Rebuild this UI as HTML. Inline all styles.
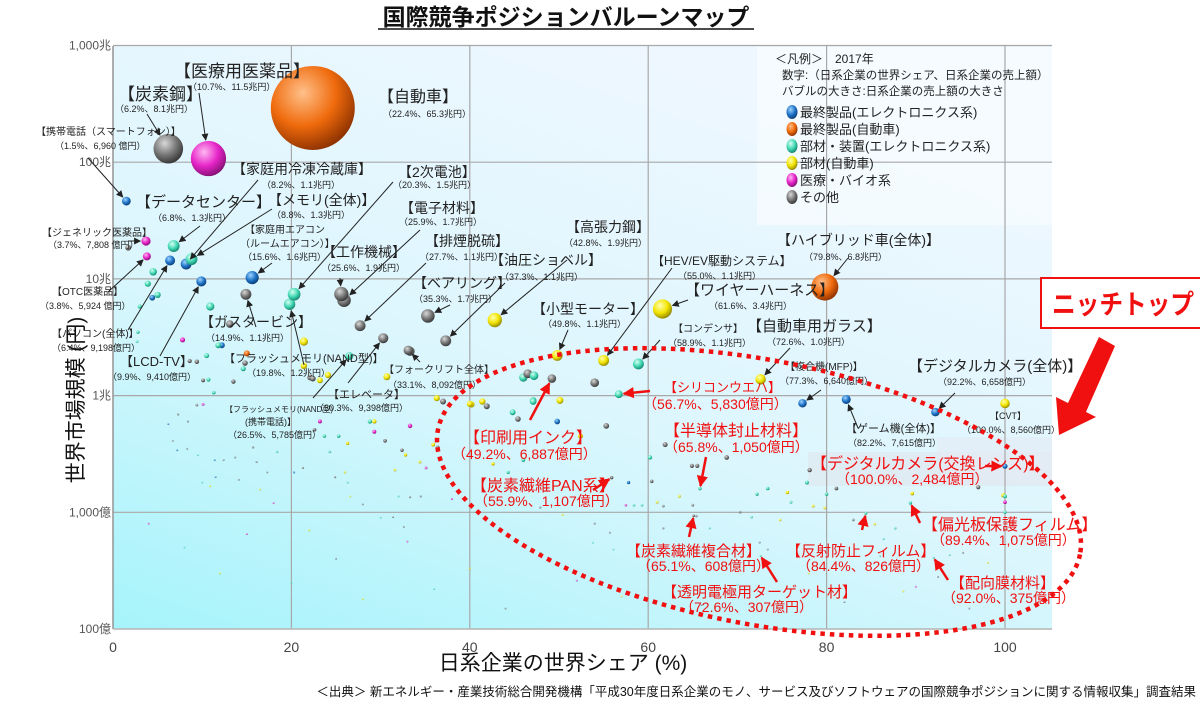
<!DOCTYPE html>
<html><head><meta charset="utf-8">
<style>
body{margin:0;background:#fff;}
svg{display:block;font-family:"Liberation Sans","Noto Sans CJK JP",sans-serif;}
</style></head>
<body>
<svg id="chart" width="1200" height="704" viewBox="0 0 1200 704" xmlns="http://www.w3.org/2000/svg">
<defs>
<linearGradient id="bg" x1="0" y1="1" x2="0.55" y2="0">
<stop offset="0" stop-color="#a6f4fb"/><stop offset="0.5" stop-color="#dcf6fd"/><stop offset="1" stop-color="#eef7ff"/>
</linearGradient>
<marker id="ah" viewBox="0 0 10 10" refX="9" refY="5" markerWidth="7" markerHeight="7" orient="auto-start-reverse"><path d="M0,0L10,5L0,10z" fill="#222"/></marker>
<marker id="ahr" viewBox="0 0 10 10" refX="9" refY="5" markerWidth="4.5" markerHeight="4.5" orient="auto-start-reverse"><path d="M0,0L10,5L0,10z" fill="#f01010"/></marker>
</defs>
<text x="566" y="25" text-anchor="middle" font-size="23" font-weight="bold" fill="#111">国際競争ポジションバルーンマップ</text>
<line x1="378" y1="29" x2="754" y2="29" stroke="#111" stroke-width="1.5"/>
<rect x="113" y="46" width="939" height="583" fill="url(#bg)"/>
<rect x="757" y="47" width="295" height="178" fill="#f6fbff" opacity="0.8"/>
<rect x="808" y="452" width="244" height="34" fill="#dfe6ef" opacity="0.6"/>
<rect x="937" y="437" width="115" height="46" fill="#e4ebf3" opacity="0.6"/>
<g id="grid"></g>
<g id="minor"></g>
<g id="named"></g>
<g id="arrows"></g>
<g id="labels"></g>
<g id="legend"></g>
<ellipse cx="759" cy="492" rx="327" ry="132" transform="rotate(11 759 492)" fill="none" stroke="#f01010" stroke-width="4.5" stroke-dasharray="4.5 5"/>
<rect x="1041" y="278" width="165" height="50" fill="#fff" stroke="#f01010" stroke-width="2"/>
<text x="1052" y="314" font-size="27" font-weight="bold" fill="#f01010" textLength="142" lengthAdjust="spacingAndGlyphs">ニッチトップ</text>
<polygon points="1099,337 1115,346 1086,412 1096,417 1059,435 1056,397 1068,403" fill="#f01010"/>
<text x="83" y="400" font-size="21" fill="#111" text-anchor="middle" transform="rotate(-90 83 400)">世界市場規模 (円)</text>
<text x="563" y="670" font-size="21" fill="#111" text-anchor="middle">日系企業の世界シェア (%)</text>
<text x="1196" y="696" font-size="12.5" fill="#111" text-anchor="end">＜出典＞ 新エネルギー・産業技術総合開発機構「平成30年度日系企業のモノ、サービス及びソフトウェアの国際競争ポジションに関する情報収集」調査結果</text>
</svg>
<script>
const NS="http://www.w3.org/2000/svg";
const svg=document.getElementById('chart');
// ---- data ----
const xTicks=[0,20,40,60,80,100];
const yTicks=[10000000,1000000,100000,10000,1000,100]; // 億円
const yTickLabels=["1,000兆","100兆","10兆","1兆","1,000億","100億"];
const catNames=["最終製品(エレクトロニクス系)","最終製品(自動車)","部材・装置(エレクトロニクス系)","部材(自動車)","医療・バイオ系","その他"];
const catKeys=["e","a","t","y","m","o"];
// named items: share %, Japanese sales (億円), category
const namedKeys=["jidosha","iryo","tanso","keitai","dc","generic","otc","reizoko","memory","pc","aircon","lcd","niji","gas","kosaku","denshi","haien","nand","bearing","yuatsu","kocho","elevator","fork","nandk","motor","hev","harness","condenser","hybrid","glass","mfp","game","dcam","cvt","silicon","ink","fusi","pan","lens","henko","fukugo","hansha","tomei","haiko"];
const namedShare=[22.4,10.7,6.2,1.5,6.8,3.7,3.8,8.2,8.8,6.4,15.6,9.9,20.3,14.9,25.6,25.9,27.7,19.8,35.3,37.3,42.8,30.3,33.1,26.5,49.8,55.0,61.6,58.9,79.8,72.6,77.3,82.2,92.2,100.0,56.7,49.2,65.8,55.9,100.0,89.4,65.1,84.4,72.6,92.0];
const namedSales=[653000,115000,81000,6960,13000,7808,5924,11000,13000,9198,16000,9410,15000,11000,19000,17000,11000,12000,17000,11000,19000,9398,8092,5785,11000,11000,34000,11000,68000,10000,6640,7615,6658,8560,5830,6887,1050,1107,2484,1075,608,826,307,375];
const namedCat=["a","m","o","e","t","m","m","e","t","e","e","e","t","o","o","o","o","t","o","o","y","o","o","t","y","y","y","t","a","y","e","e","e","y","t","o","t","o","e","t","o","t","t","t"];
// minor bubbles: share %, world market (億円), category
const minorShare=[4.5,3.9,5.0,4.4,10.9,13.1,12.2,11.8,7.8,15.0,14.8,14.6,21.4,21.4,24.1,23.2,10.5,9.4,8.6,10.1,10.7,13.5,2.8,2.7,3.0,1.7,22.1,30.7,33.3,22.4,36.3,37.0,41.4,40.2,46.0,46.5,47.2,54.0,50.1,47.1,44.8,49.8,41.9,52.4,45.4,
11.3,10.1,9.4,7.3,6.2,8.4,6.7,7.2,8.3,9.5,11.4,12.4,13.7,15.7,16.1,17.3,14.1,11.5,10.9,16.5,18.4,20.3,21.3,22.6,23.2,23.7,25.3,26.3,24.3,24.9,26.3,26.0,26.6,28.0,28.8,29.3,29.3,30.5,32.4,32.8,33.3,34.4,35.1,31.6,32.0,33.3,34.5,31.4,32.6,35.9,36.4,44.3,42.6,46.0,47.1,40.0,47.9,50.4,
55.3,60.2,60.4,61.9,64.9,65.5,68.8,57.8,57.5,58.4,59.3,61.0,61.7,63.5,65.0,65.4,72.2,73.4,75.6,76.0,77.8,80.0,78.5,79.8,78.1,81.1,89.6,97.0,99.8,100,100,100,98.1,95.3,93.8,98.1,87.7,86.4,85.4,83.0,74.8,72.5,73.4,66.9,61.7,71.6,70.3,53.8,55.7,56.1,88.6,92.5,
4,8,12,15,20,25,28,33,36,40,44,48,52,57,62,66,70,78,82,86,90,96,10,18,22,30,38,46,54,64];
const minorMarket=[115000,91000,73000,69000,58000,41000,27000,27000,30000,23000,19000,17000,29000,18000,15000,13500,22000,19500,19800,13500,13700,13200,35000,29000,58000,185000,14300,14500,24000,14000,9500,8900,8900,8400,14300,15400,14800,12900,9100,9100,7200,6000,8100,4500,6300,
10600,8400,8300,6900,5700,6000,4100,3400,3500,3100,2800,2800,2950,3600,2700,2200,1900,2000,1670,1570,3300,2200,2400,5100,6000,4500,4500,3900,3300,2000,1800,2200,1370,1170,6000,4900,6000,4100,3400,3100,5500,2700,2400,2300,1370,1350,1370,910,750,3800,3600,2200,2600,2800,8900,8500,1100,950,
5500,2950,1840,3800,2500,2500,2950,1800,1150,1150,1150,1220,1130,1370,1150,930,1430,1600,1480,1220,1800,1430,1130,1090,2300,1600,1450,1640,1400,1220,1370,1000,810,450,430,370,730,590,790,860,860,550,480,730,730,910,1000,550,670,480,210,280,
800,500,300,650,250,400,180,560,220,330,150,450,260,190,340,160,240,300,170,420,230,150,1800,1200,700,900,1300,1700,800,380];
const minorCat=["t","t","t","e","t","o","e","t","m","a","o","t","y","y","y","y","t","o","o","o","t","o","t","t","t","o","o","y","o","o","y","o","y","y","t","o","t","o","y","t","t","e","o","y","o",
"t","m","o","o","e","o","o","e","o","t","e","o","o","o","o","o","o","e","y","y","t","e","o","o","m","t","t","y","t","o","t","y","y","o","t","m","y","o","o","y","m","y","m","y","t","o","o","o","o","y","o","t","y","t","t","y","o","y",
"o","t","o","o","o","o","o","e","m","t","t","y","o","y","o","o","t","t","y","t","t","t","y","y","o","o","y","o","y","m","t","t","t","o","t","y","t","t","y","o","y","o","o","t","o","t","o","t","o","t","y","o",
"m","t","y","m","t","o","y","m","t","y","o","t","m","y","t","o","t","y","o","t","m","o","t","m","y","t","m","t","o","y"];
// ---- scales ----
const X=s=>113+s*8.92;
const Y=m=>629-Math.log10(m/100)*116.7;
const R=sales=>Math.max(1,42*Math.sqrt(sales/653000));
const colors={e:["#9fd4ff","#1f74c8","#0a3a70"],a:["#ffc08a","#ef6a0c","#8a3000"],t:["#d8fff2","#42d8b4","#12806a"],y:["#ffffb0","#f2e400","#8a8000"],m:["#ffb8f2","#e624c8","#801070"],o:["#d8d8d8","#777777","#333333"]};
const defs=svg.querySelector('defs');
for(const k of catKeys){
  const g=document.createElementNS(NS,'radialGradient');
  g.setAttribute('id','g'+k);g.setAttribute('cx','0.38');g.setAttribute('cy','0.32');g.setAttribute('r','0.72');
  [[0,0],[0.55,1],[1,2]].forEach(([o,i])=>{const s=document.createElementNS(NS,'stop');s.setAttribute('offset',o);s.setAttribute('stop-color',colors[k][i]);g.appendChild(s);});
  defs.appendChild(g);
}
function mk(tag,attrs,parent){const e=document.createElementNS(NS,tag);for(const a in attrs)e.setAttribute(a,attrs[a]);parent.appendChild(e);return e;}
// ---- grid & ticks ----
const grid=document.getElementById('grid');
xTicks.forEach(t=>{
  const l=mk('line',{x1:X(t),x2:X(t),y1:46,y2:629,stroke:'#a8a8a8','stroke-width':1.2},grid);
  
  
  const tx=mk('text',{x:X(t),y:652,'font-size':14,fill:'#444','text-anchor':'middle'},grid);
  tx.textContent=t;
  
  
});
yTicks.forEach((v,i)=>{
  const y=Y(v);
  const l=mk('line',{x1:113,x2:1052,y1:y,y2:y,stroke:'#a8a8a8','stroke-width':1.2},grid);
  
  
  mk('rect',{x:70,y:y-8,width:42,height:15,fill:'#fff'},grid);
  const tx=mk('text',{x:111,y:y+4,'font-size':12,fill:'#555','text-anchor':'end'},grid);
  tx.textContent=yTickLabels[i];
  
  
});
mk('line',{x1:113,x2:113,y1:46,y2:629,stroke:'#999','stroke-width':1.5},grid);
mk('line',{x1:113,x2:1052,y1:629,y2:629,stroke:'#bbb','stroke-width':1.5},grid);
// ---- minor bubbles ----
const minorG=document.getElementById('minor');
minorShare.forEach((s,i)=>{
  const m=minorMarket[i];
  const r=R(s*m/100);
  const c=mk('circle',{cx:X(s),cy:Y(m),r:r,fill:'url(#g'+minorCat[i]+')'},minorG);
  if(r<1.6)c.setAttribute('opacity','0.7');
  
  
});
// ---- named bubbles ----
const namedG=document.getElementById('named');
const pos={};
const order=namedShare.map((_,i)=>i).sort((a,b)=>namedSales[a]-namedSales[b]);
order.forEach(i=>{
  const s=namedShare[i],sales=namedSales[i],m=sales/(s/100);
  const cx=X(s),cy=Y(m),r=R(sales);
  pos[namedKeys[i]]={cx,cy,r};
  const c=mk('circle',{cx,cy,r,fill:'url(#g'+namedCat[i]+')'},namedG);
  
  
});
// ---- labels (annotation layout) ----
const K='#222',RD='#f01010';
const labels=[
 ["jidosha",[["【自動車】",378,102,16],["（22.4%、65.3兆円）",383,117,9]],null,K],
 ["iryo",[["【医療用医薬品】",174,77,17],["（10.7%、11.5兆円）",188,90,9]],[199,93],K],
 ["tanso",[["【炭素鋼】",118,100,17],["（6.2%、8.1兆円）",115,112,9]],[147,114],K],
 ["keitai",[["【携帯電話（スマートフォン）】",36,135,10],["（1.5%、6,960 億円）",55,149,9]],[88,158],K],
 ["dc",[["【データセンター】",136,207,15],["（6.8%、1.3兆円）",153,221,9]],[200,226],K],
 ["generic",[["【ジェネリック医薬品】",42,236,10],["（3.7%、7,808 億円）",48,248,9]],[128,241],K],
 ["otc",[["【OTC医薬品】",52,295,10],["（3.8%、5,924 億円）",40,309,9]],[108,292],K],
 ["pc",[["【パソコン(全体)】",52,337,10],["（6.4%、9,198億円）",52,351,9]],[128,330],K],
 ["lcd",[["【LCD-TV】",120,366,13],["（9.9%、9,410億円）",108,380,9]],[160,356],K],
 ["reizoko",[["【家庭用冷凍冷蔵庫】",232,174,14],["（8.2%、1.1兆円）",262,188,9]],[258,180],K],
 ["memory",[["【メモリ(全体)】",268,205,14],["（8.8%、1.3兆円）",272,218,9]],[272,209],K],
 ["aircon",[["【家庭用エアコン",245,233,10],["（ルームエアコン）】",240,247,10],["（15.6%、1.6兆円）",243,260,9]],[272,263],K],
 ["gas",[["【ガスタービン】",200,327,14],["（14.9%、1.1兆円）",206,341,9]],[256,327],K],
 ["nand",[["【フラッシュメモリ(NAND型)】",224,362,11],["（19.8%、1.2兆円）",247,376,9]],[304,365],K],
 ["kosaku",[["【工作機械】",322,257,14],["（25.6%、1.9兆円）",322,271,9]],[340,278],K],
 ["niji",[["【2次電池】",398,177,14],["（20.3%、1.5兆円）",393,188,9]],[393,182],K],
 ["denshi",[["【電子材料】",400,213,14],["（25.9%、1.7兆円）",399,225,9]],[420,230],K],
 ["haien",[["【排煙脱硫】",425,246,14],["（27.7%、1.1兆円）",420,260,9]],[426,263],K],
 ["yuatsu",[["【油圧ショベル】",490,265,14],["（37.3%、1.1兆円）",500,280,9]],[505,283],K],
 ["kocho",[["【高張力鋼】",566,232,14],["（42.8%、1.9兆円）",564,246,9]],[567,260],K],
 ["bearing",[["【ベアリング】",413,288,14],["（35.3%、1.7兆円）",414,302,9]],[450,305],K],
 ["fork",[["【フォークリフト全体】",384,373,10],["（33.1%、8,092億円）",388,388,9]],[420,362],K],
 ["elevator",[["【エレベータ】",328,398,11],["（30.3%、9,398億円）",315,411,9]],[348,383],K],
 ["nandk",[["【フラッシュメモリ(NAND型)",225,412,8],["(携帯電話)】",245,425,9],["（26.5%、5,785億円）",228,438,9]],[313,398],K],
 ["hev",[["【HEV/EV駆動システム】",652,265,12],["（55.0%、1.1兆円）",678,279,9]],[672,268],K],
 ["harness",[["【ワイヤーハーネス】",685,295,15],["（61.6%、3.4兆円）",709,309,9]],[688,300],K],
 ["motor",[["【小型モーター】",532,314,14],["（49.8%、1.1兆円）",543,327,9]],[568,330],K],
 ["condenser",[["【コンデンサ】",673,332,10],["（58.9%、1.1兆円）",668,346,9]],[660,340],K],
 ["glass",[["【自動車用ガラス】",747,331,15],["（72.6%、1.0兆円）",767,345,9]],[790,348],K],
 ["hybrid",[["【ハイブリッド車(全体)】",777,245,14],["（79.8%、6.8兆円）",804,260,9]],[848,258],K],
 ["mfp",[["【複合機(MFP)】",785,370,10],["（77.3%、6,640億円）",780,384,9]],[821,390],K],
 ["game",[["【ゲーム機(全体)】",846,432,11],["（82.2%、7,615億円）",848,446,9]],[858,428],K],
 ["dcam",[["【デジタルカメラ(全体)】",908,371,15],["（92.2%、6,658億円）",938,385,9]],[955,393],K],
 ["cvt",[["【CVT】",990,419,9],["（100.0%、8,560億円）",962,433,9]],null,K],
 ["silicon",[["【シリコンウエハ】",664,392,13],["（56.7%、5,830億円）",643,409,14]],[650,391],RD],
 ["ink",[["【印刷用インク】",464,443,16],["（49.2%、6,887億円）",452,459,14]],[530,420],RD],
 ["fusi",[["【半導体封止材料】",664,436,16],["（65.8%、1,050億円）",664,452,14]],[706,457],RD],
 ["pan",[["【炭素繊維PAN系】",471,491,16],["（55.9%、1,107億円）",474,506,14]],[593,490],RD],
 ["lens",[["【デジタルカメラ(交換レンズ)】",811,469,16],["（100.0%、2,484億円）",836,484,14]],[985,466],RD],
 ["henko",[["【偏光板保護フィルム】",922,530,16],["（89.4%、1,075億円）",931,545,14]],[920,523],RD],
 ["fukugo",[["【炭素繊維複合材】",626,556,15],["（65.1%、608億円）",637,571,14]],[689,537],RD],
 ["hansha",[["【反射防止フィルム】",786,556,15],["（84.4%、826億円）",797,571,14]],[862,530],RD],
 ["tomei",[["【透明電極用ターゲット材】",662,597,15],["（72.6%、307億円）",680,612,14]],[777,582],RD],
 ["haiko",[["【配向膜材料】",950,588,15],["（92.0%、375億円）",942,603,14]],[948,580],RD]
];
const labelG=document.getElementById('labels'),arrowG=document.getElementById('arrows');
labels.forEach(([key,lines,from,col])=>{
  lines.forEach(([t,x,y,fs],j)=>{
    const tx=mk('text',{x,y,'font-size':fs,fill:col},labelG);
    tx.textContent=t;
    
    
  });
  if(from&&pos[key]){
    const p=pos[key];const dx=p.cx-from[0],dy=p.cy-from[1];const d=Math.hypot(dx,dy)||1;
    const ex=p.cx-dx/d*(p.r+1),ey=p.cy-dy/d*(p.r+1);
    const ln=mk('line',{x1:from[0],y1:from[1],x2:ex,y2:ey,stroke:col,'stroke-width':col===RD?2.5:1,'marker-end':col===RD?'url(#ahr)':'url(#ah)'},arrowG);
    
    
  }
});
// ---- legend ----
const lg=document.getElementById('legend');
[["＜凡例＞　2017年",775,63,12],["数字:（日系企業の世界シェア、日系企業の売上額）",782,79,11.5],["バブルの大きさ:日系企業の売上額の大きさ",782,95,11.5]].forEach(([t,x,y,fs])=>{
  const tx=mk('text',{x,y,'font-size':fs,fill:'#222'},lg);
  tx.textContent=t;
  
  
});
catKeys.forEach((k,i)=>{
  const y=112+i*17;
  const c=mk('ellipse',{cx:792,cy:y,rx:5.5,ry:7,fill:'url(#g'+k+')'},lg);
  
  
  const tx=mk('text',{x:800,y:y+5,'font-size':13,fill:'#222'},lg);
  tx.textContent=catNames[i];
  
  
});
</script>
</body></html>
